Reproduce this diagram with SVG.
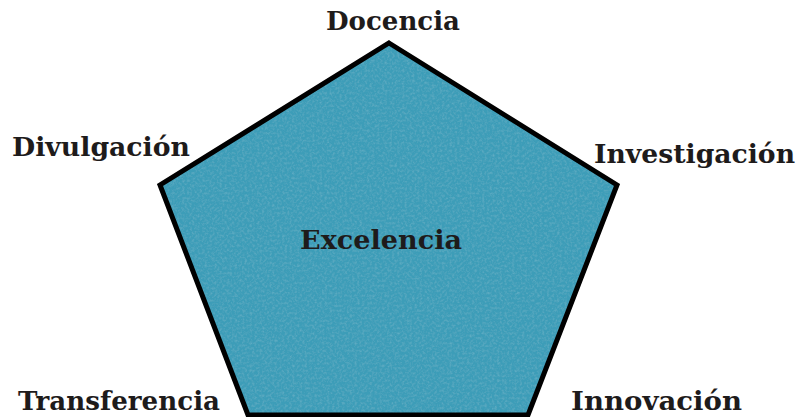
<svg xmlns="http://www.w3.org/2000/svg" width="798" height="417" viewBox="0 0 798 417">
<defs>
<filter id="tex" x="0" y="0" width="100%" height="100%">
<feTurbulence type="fractalNoise" baseFrequency="0.4" numOctaves="3" seed="5" result="n"/>
<feColorMatrix in="n" type="matrix" values="0 0 0 0 0.12  0 0 0 0 0.42  0 0 0 0 0.55  0 0 0 1.8 -0.75" result="m"/>
<feComposite in="m" in2="SourceGraphic" operator="in" result="c"/>
<feMerge><feMergeNode in="SourceGraphic"/><feMergeNode in="c"/></feMerge>
</filter>
<style>
.lbl{font-family:"DejaVu Serif","Liberation Serif",serif;font-weight:bold;font-size:26px;fill:#1e1b1b}
</style>
</defs>
<rect width="798" height="417" fill="#ffffff"/>
<g id="pentagon">
<polygon points="389,43 617,185 528,415 248,415 160,185" fill="#3e9db8" filter="url(#tex)"/>
<polygon points="389,43 617,185 528,415 248,415 160,185" fill="none" stroke="#000" stroke-width="5" stroke-linejoin="miter"/>
<text class="lbl" x="381" y="249" text-anchor="middle" textLength="162" lengthAdjust="spacingAndGlyphs">Excelencia</text>
</g>
<g id="docencia"><text class="lbl" x="393" y="30" text-anchor="middle" textLength="134" lengthAdjust="spacingAndGlyphs">Docencia</text></g>
<g id="divulgacion"><text class="lbl" x="12" y="156" textLength="178" lengthAdjust="spacingAndGlyphs">Divulgación</text></g>
<g id="investigacion"><text class="lbl" x="594" y="163" textLength="201" lengthAdjust="spacingAndGlyphs">Investigación</text></g>
<g id="transferencia"><text class="lbl" x="18" y="410" textLength="202" lengthAdjust="spacingAndGlyphs">Transferencia</text></g>
<g id="innovacion"><text class="lbl" x="571" y="410" textLength="171" lengthAdjust="spacingAndGlyphs">Innovación</text></g>
<g id="connectors"></g>
</svg>
